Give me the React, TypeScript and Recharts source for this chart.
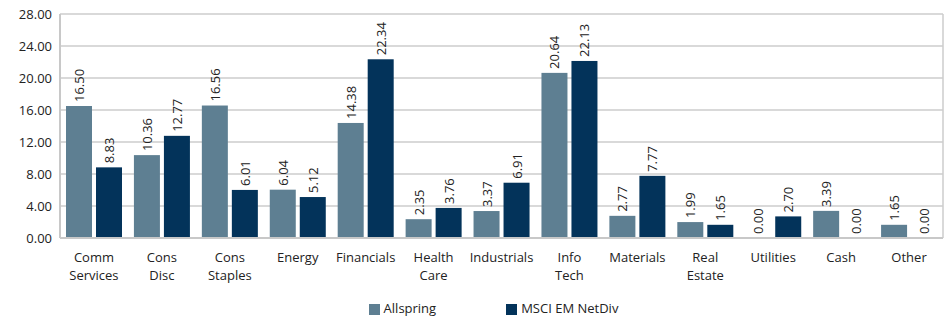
import React from 'react';
import { BarChart, Bar, XAxis, YAxis, CartesianGrid, Legend } from 'recharts';

const sectors = [
  'Comm Services', 'Cons Disc', 'Cons Staples', 'Energy', 'Financials', 'Health Care',
  'Industrials', 'Info Tech', 'Materials', 'Real Estate', 'Utilities', 'Cash', 'Other',
];
const allspring = [16.5, 10.36, 16.56, 6.04, 14.38, 2.35, 3.37, 20.64, 2.77, 1.99, 0.0, 3.39, 1.65];
const msci = [8.83, 12.77, 6.01, 5.12, 22.34, 3.76, 6.91, 22.13, 7.77, 1.65, 2.7, 0.0, 0.0];
const yTicks = [0, 4, 8, 12, 16, 20, 24, 28];

const data = sectors.map((name, i) => ({ name, allspring: allspring[i], msci: msci[i] }));

const FONT = '"Open Sans", Lato, sans-serif';
const TEXT = '#222';

const SectorTick = (props: any) => {
  const { x, y, payload } = props;
  const words = String(payload.value).split(' ');
  return (
    <text x={x} y={y} textAnchor="middle" fill={TEXT} fontSize={13} fontFamily={FONT}>
      {words.map((w, i) => (
        <tspan key={i} x={x} dy={i === 0 ? 16 : 18}>{w}</tspan>
      ))}
    </text>
  );
};

// bar + rotated value label drawn together so zero values still get a label
const makeShape = (fill: string) => (props: any) => {
  const { x, y, width, height, value } = props;
  const v = Array.isArray(value) ? value[1] - value[0] : value;
  const cx = x + width / 2 + 5;
  const cy = y - 4;
  return (
    <g>
      {height > 0 && <rect x={x} y={y} width={width} height={height} fill={fill} />}
      <text x={cx} y={cy} transform={`rotate(-90 ${cx} ${cy})`} textAnchor="start"
        fill={TEXT} fontSize={13} fontFamily={FONT}>
        {Number(v).toFixed(2)}
      </text>
    </g>
  );
};

export default function App() {
  return (
    <div style={{ position: 'absolute', left: 0, top: 0, background: '#fff' }}>
      <BarChart width={951} height={323} data={data}
        margin={{ top: 14, right: 8, left: 0, bottom: 17 }}
        barCategoryGap={6} barGap={4}>
        <CartesianGrid stroke="#cccccc" strokeWidth={1.5}
          verticalCoordinatesGenerator={({ offset }: any) => [offset.left + offset.width]} />
        <XAxis dataKey="name" interval={0} height={50} tickLine={false}
          axisLine={{ stroke: '#c8c8c8', strokeWidth: 2 }} tick={<SectorTick />} />
        <YAxis domain={[0, 28]} ticks={yTicks} width={60} tickLine={false}
          axisLine={{ stroke: '#c8c8c8', strokeWidth: 2 }}
          tickFormatter={(v: number) => v.toFixed(2)}
          tick={{ fill: TEXT, fontSize: 13, fontFamily: FONT }} />
        <Legend verticalAlign="bottom" iconType="square" iconSize={11}
          wrapperStyle={{ bottom: 6, left: 27, fontFamily: FONT, fontSize: 13, color: TEXT }}
          formatter={(v: string) => (
            <span style={{ color: TEXT, marginRight: v === 'Allspring' ? 60 : 0 }}>{v}</span>
          )} />
        <Bar dataKey="allspring" name="Allspring" fill="#5e7f92" isAnimationActive={false}
          shape={makeShape('#5e7f92')} />
        <Bar dataKey="msci" name="MSCI EM NetDiv" fill="#03335a" isAnimationActive={false}
          shape={makeShape('#03335a')} />
      </BarChart>
    </div>
  );
}
